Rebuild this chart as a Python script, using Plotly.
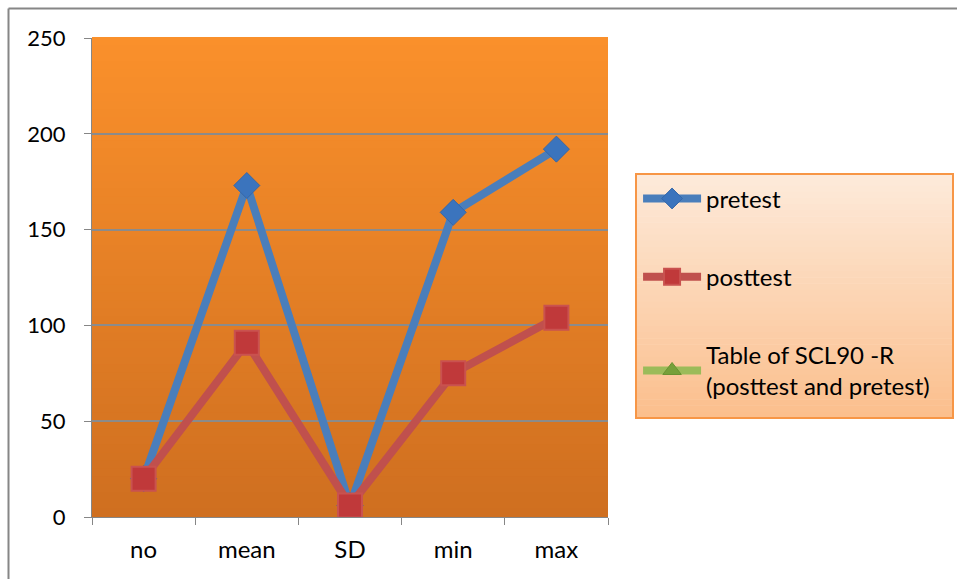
import plotly.graph_objects as go

# Table of SCL90-R statistics, before and after the intervention
categories = ["no", "mean", "SD", "min", "max"]
pretest = [20, 173, 6, 159, 192]
posttest = [20, 91, 6, 75, 104]
third_series_name = "Table of SCL90 -R<br>(posttest and pretest)"
third_series = [None, None, None, None, None]

y_ticks = [0, 50, 100, 150, 200, 250]

W, H = 957, 579
ML, MR, MT, MB = 92, 349, 38, 62
PW, PH = W - ML - MR, H - MT - MB


def px_to_paper(px, py):
    return (px - ML) / PW, (H - MB - py) / PH


def lerp(c1, c2, t):
    return "rgb(%d,%d,%d)" % tuple(round(a + (b - a) * t) for a, b in zip(c1, c2))


fig = go.Figure()

fig.add_trace(go.Scatter(
    x=categories, y=pretest, name="pretest", mode="lines+markers",
    line=dict(color="#4a7ebb", width=8),
    marker=dict(symbol="diamond", size=20, color="#3b74bd",
                line=dict(color="#3567a8", width=1)),
))
fig.add_trace(go.Scatter(
    x=categories, y=posttest, name="posttest", mode="lines+markers",
    line=dict(color="#c0504d", width=8),
    marker=dict(symbol="square", size=24, color="#c0393a",
                line=dict(color="#c9524f", width=2)),
))
fig.add_trace(go.Scatter(
    x=categories, y=third_series, name=third_series_name, mode="lines+markers",
    line=dict(color="#9bbb59", width=8),
    marker=dict(symbol="triangle-up", size=18, color="#76a03a",
                line=dict(color="#6a9232", width=1)),
))

shapes = []

# vertical orange gradient behind the plotting area
top_c, bot_c = (250, 144, 43), (207, 111, 32)
n = 60
for i in range(n):
    shapes.append(dict(
        type="rect", xref="x domain", yref="y domain", layer="below",
        x0=0, x1=1, y0=1 - (i + 1) / n, y1=1 - i / n + 0.002,
        fillcolor=lerp(top_c, bot_c, i / (n - 1)), line=dict(width=0),
    ))

# legend panel with a light peach gradient
lx0, ly0 = px_to_paper(636, 174)
lx1, ly1 = px_to_paper(953, 418)
ltop, lbot = (253, 234, 218), (251, 191, 141)
m = 40
for i in range(m):
    ya = ly0 - (ly0 - ly1) * i / m
    yb = ly0 - (ly0 - ly1) * (i + 1) / m
    shapes.append(dict(
        type="rect", xref="paper", yref="paper", layer="below",
        x0=lx0, x1=lx1, y0=yb, y1=ya + 0.001,
        fillcolor=lerp(ltop, lbot, i / (m - 1)), line=dict(width=0),
    ))
shapes.append(dict(
    type="rect", xref="paper", yref="paper", layer="below",
    x0=lx0, x1=lx1, y0=ly1, y1=ly0,
    line=dict(color="#f79646", width=2), fillcolor="rgba(0,0,0,0)",
))

# chart-area frame (top and left edges)
bx, by_top = px_to_paper(8.5, 8.5)
_, by_bot = px_to_paper(8.5, 579)
bx_r, _ = px_to_paper(957, 8.5)
shapes.append(dict(type="line", xref="paper", yref="paper",
                   x0=bx, x1=bx_r, y0=by_top, y1=by_top,
                   line=dict(color="#868686", width=2)))
shapes.append(dict(type="line", xref="paper", yref="paper",
                   x0=bx, x1=bx, y0=by_top, y1=by_bot,
                   line=dict(color="#868686", width=2)))

font = "Lato, 'Open Sans', sans-serif"

fig.update_layout(
    width=W, height=H,
    margin=dict(l=ML, r=MR, t=MT, b=MB),
    paper_bgcolor="white", plot_bgcolor="rgba(0,0,0,0)",
    font=dict(family=font, size=24, color="black"),
    shapes=shapes,
    showlegend=True,
    legend=dict(
        x=lx0 + 0.004, y=ly0 - 0.005, xanchor="left", yanchor="top",
        bgcolor="rgba(0,0,0,0)", borderwidth=0,
        font=dict(family=font, size=24, color="black"),
        tracegroupgap=44, itemwidth=58,
    ),
    xaxis=dict(
        type="category", categoryorder="array", categoryarray=categories,
        range=[-0.5, 4.5], showgrid=False, showline=True,
        linecolor="#868686", linewidth=1,
        ticks="outside", tickson="boundaries", ticklen=7, tickcolor="#868686",
        tickfont=dict(family=font, size=24), ticklabelstandoff=11,
    ),
    yaxis=dict(
        range=[0, 250], tickvals=y_ticks, showgrid=True,
        gridcolor="#8b8b8b", gridwidth=2,
        showline=True, linecolor="#868686", linewidth=1,
        ticks="outside", ticklen=7, tickcolor="#868686",
        tickfont=dict(family=font, size=22), ticklabelstandoff=14,
        zeroline=False,
    ),
)
for i, tr in enumerate(fig.data):
    tr.legendgroup = "g%d" % i

fig.write_html("out.html")
